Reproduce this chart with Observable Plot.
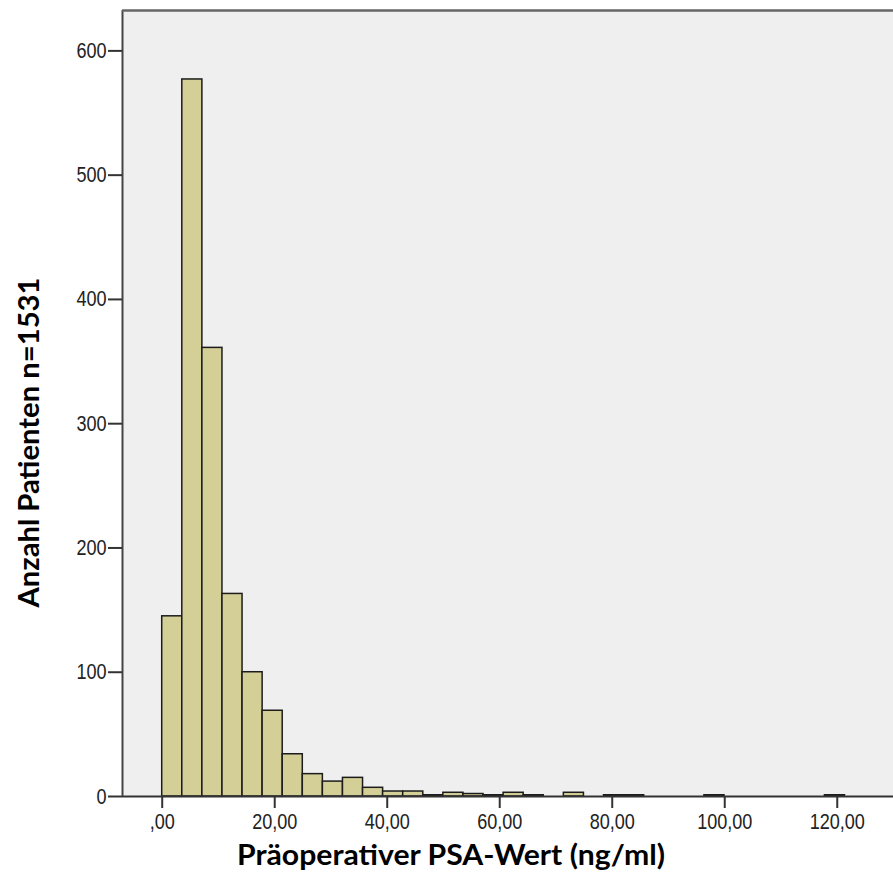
<!DOCTYPE html>
<html>
<head>
<meta charset="utf-8">
<script src="https://cdn.jsdelivr.net/npm/d3@7"></script>
<script src="https://cdn.jsdelivr.net/npm/@observablehq/plot@0.6"></script>
<style>
  html, body { margin: 0; padding: 0; background: white; }
  #chart svg { display: block; }
</style>
</head>
<body>
<div id="chart"></div>
<script>
// Histogram counts per bin (bin width in ng/ml)
const binWidth = 3.57;
const counts = [145, 577, 361, 163, 100, 69, 34, 18, 12, 15,
                7, 4, 4, 1, 3, 2, 1, 3, 1, 0,
                3, 0, 1, 1, 0, 0, 0, 1, 0, 0,
                0, 0, 0, 1];
const xTickValues = [0, 20, 40, 60, 80, 100, 120];
const xTickLabels = [",00", "20,00", "40,00", "60,00", "80,00", "100,00", "120,00"];
const yTickValues = [0, 100, 200, 300, 400, 500, 600];
const xLabel = "Präoperativer PSA-Wert (ng/ml)";
const yLabel = "Anzahl Patienten n=1531";

const bins = counts.map((c, i) => ({x1: i * binWidth, x2: (i + 1) * binWidth, count: c}))
                   .filter(d => d.count > 0);

const xMin = -7.06, xMax = 130, yMax = 632.5;

const chart = Plot.plot({
  width: 893,
  height: 892,
  marginLeft: 122,
  marginRight: 0,
  marginTop: 10,
  marginBottom: 96,
  x: {domain: [xMin, xMax]},
  y: {domain: [0, yMax]},
  style: {fontFamily: "'Liberation Sans', Arial, sans-serif", fontSize: "22px", color: "#222", background: "white"},
  marks: [
    Plot.frame({fill: "#efefef", stroke: null}),
    Plot.rectY(bins, {x1: "x1", x2: "x2", y: "count", fill: "#d3cf97", stroke: "#1c1c1c", strokeWidth: 1.5}),
    Plot.ruleY([0], {stroke: "#333", strokeWidth: 2}),
    Plot.ruleX([xMin], {stroke: "#444", strokeWidth: 2}),
    Plot.ruleY([yMax], {stroke: "#666", strokeWidth: 2.5}),
    Plot.axisX({ticks: xTickValues, tickFormat: d => xTickLabels[xTickValues.indexOf(d)], tickSize: 12, tickPadding: 5, label: null, stroke: "#333", strokeWidth: 2}),
    Plot.axisY({ticks: yTickValues, tickFormat: d => String(d), tickSize: 14, tickPadding: 2, label: null, stroke: "#333", strokeWidth: 2}),
    Plot.text([xLabel], {text: d => d, frameAnchor: "bottom", textAnchor: "middle", lineAnchor: "middle", dx: -57, dy: 60, fontFamily: "Lato, 'Open Sans', sans-serif", fontWeight: "bold", fontSize: 28, fill: "#000"}),
    Plot.text([yLabel], {text: d => d, frameAnchor: "left", textAnchor: "middle", lineAnchor: "middle", dx: -92, dy: 39, rotate: -90, fontFamily: "Lato, 'Open Sans', sans-serif", fontWeight: "bold", fontSize: 28, fill: "#000"})
  ]
});
document.getElementById("chart").appendChild(chart);

// narrow tick-label face (the reference uses a condensed sans)
d3.select(chart).selectAll('g[aria-label$="tick label"] text').each(function() {
  const w = this.getComputedTextLength();
  d3.select(this).attr("textLength", w * 0.82).attr("lengthAdjust", "spacingAndGlyphs");
});

// fit the axis titles to the widths they take in the reference
d3.select(chart).selectAll("text")
  .filter(function() { return this.textContent === xLabel; })
  .attr("textLength", 428).attr("lengthAdjust", "spacingAndGlyphs");
d3.select(chart).selectAll("text")
  .filter(function() { return this.textContent === yLabel; })
  .attr("textLength", 330).attr("lengthAdjust", "spacingAndGlyphs");
</script>
</body>
</html>
